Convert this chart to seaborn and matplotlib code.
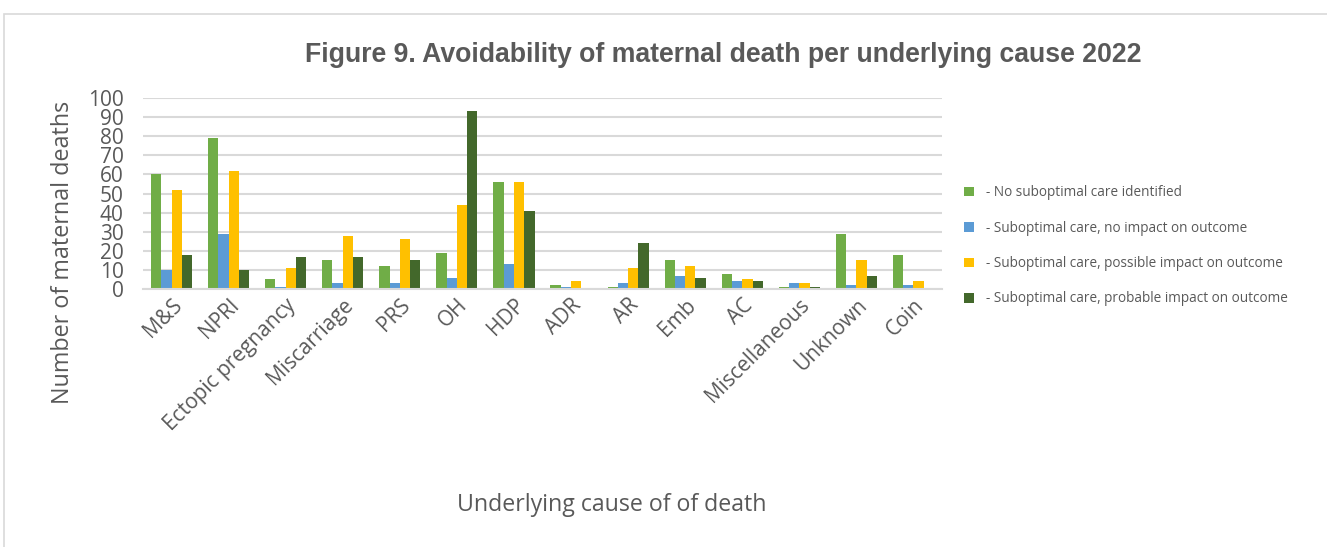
import matplotlib
matplotlib.use("Agg")
import matplotlib.pyplot as plt
import matplotlib.patches as mpatches
import seaborn as sns
import pandas as pd

causes = ["M&S", "NPRI", "Ectopic pregnancy", "Miscarriage", "PRS", "OH", "HDP",
          "ADR", "AR", "Emb", "AC", "Miscellaneous", "Unknown", "Coin"]
series_names = ["- No suboptimal care identified",
                "- Suboptimal care, no impact on outcome",
                "- Suboptimal care, possible impact on outcome",
                "- Suboptimal care, probable impact on outcome"]
no_suboptimal = [60, 79, 5, 15, 12, 19, 56, 2, 1, 15, 8, 1, 29, 18]
no_impact = [10, 29, 1, 3, 3, 6, 13, 1, 3, 7, 4, 3, 2, 2]
possible_impact = [52, 62, 11, 28, 26, 44, 56, 4, 11, 12, 5, 3, 15, 4]
probable_impact = [18, 10, 17, 17, 15, 93, 41, 0, 24, 6, 4, 1, 7, 0]
colors = ["#70AD47", "#5B9BD5", "#FFC000", "#43682B"]
y_ticks = list(range(0, 101, 10))

rows = []
for name, vals in zip(series_names, [no_suboptimal, no_impact, possible_impact, probable_impact]):
    for c, v in zip(causes, vals):
        rows.append({"cause": c, "series": name, "deaths": v})
df = pd.DataFrame(rows)

sns.set_theme(style="white")
plt.rcParams["font.family"] = ["Open Sans", "DejaVu Sans"]
text_gray = "#595959"
grid_gray = "#D9D9D9"

fig = plt.figure(figsize=(13.27, 5.47), dpi=100)
ax = fig.add_axes([143 / 1327, 1 - 289 / 547, (942 - 143) / 1327, (289 - 98) / 547])

sns.barplot(data=df, x="cause", y="deaths", hue="series", order=causes,
            hue_order=series_names, palette=colors, width=0.72, gap=0,
            saturation=1, legend=False, linewidth=0, edgecolor="none", ax=ax)

ax.set_ylim(0, 100)
ax.set_xlim(-0.5, len(causes) - 0.5)
ax.set_yticks(y_ticks)
ax.set_yticklabels([str(t) for t in y_ticks], fontsize=15, color=text_gray)
ax.set_axisbelow(True)
ax.yaxis.grid(True, color=grid_gray, linewidth=1.5)
ax.xaxis.grid(False)
for s in ["top", "left", "right"]:
    ax.spines[s].set_visible(False)
ax.spines["bottom"].set_color(grid_gray)
ax.spines["bottom"].set_linewidth(1.5)
ax.tick_params(axis="y", length=0, pad=14)
ax.tick_params(axis="x", length=0, pad=4)
ax.set_xticks(range(len(causes)))
ax.set_xticklabels(causes, rotation=45, ha="right", rotation_mode="anchor",
                   fontsize=15, color=text_gray)
ax.set_xlabel("")
ax.set_ylabel("")

fig.text(63 / 1327, 1 - 252 / 547, "Number of maternal deaths", rotation=90,
         ha="center", va="center", fontsize=16.8, color=text_gray)
fig.text(612 / 1327, 1 - 505 / 547, "Underlying cause of of death",
         ha="center", va="center", fontsize=16.7, color=text_gray)
fig.text(723 / 1327, 1 - 55 / 547,
         "Figure 9. Avoidability of maternal death per underlying cause 2022",
         ha="center", va="center", fontsize=19.2, fontweight="bold",
         color=text_gray, family=["Liberation Sans", "DejaVu Sans"])

handles = [mpatches.Patch(facecolor=c, edgecolor="none") for c in colors]
fig.legend(handles, series_names, loc="upper left",
           bbox_to_anchor=(952 / 1327, 1 - 173 / 547), frameon=False,
           fontsize=9.8, labelcolor=text_gray, handlelength=0.7,
           handleheight=0.7, handletextpad=0.9, labelspacing=1.5)

border = mpatches.Rectangle((4 / 1327, -0.05), 1.1, 1 - 14 / 547 + 0.05,
                            transform=fig.transFigure, fill=False,
                            edgecolor=grid_gray, linewidth=1.2)
fig.patches.append(border)

fig.savefig("out.png", dpi=100)
